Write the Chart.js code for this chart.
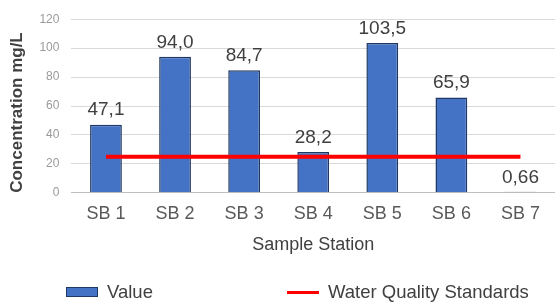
<!DOCTYPE html>
<html>
<head>
<meta charset="utf-8">
<script src="https://cdn.jsdelivr.net/npm/chart.js@4.4.1/dist/chart.umd.min.js"></script>
<style>
html,body{margin:0;padding:0;background:#fff;}
#wrap{position:relative;width:555px;height:302px;}
#legend{position:absolute;left:0;top:281px;width:555px;height:22px;font:18.5px "Liberation Sans",Arial,sans-serif;color:#404040;}
.li{position:absolute;top:0;display:flex;align-items:center;height:22px;}
.sw{display:inline-block;margin-right:9px;}
</style>
</head>
<body>
<div id="wrap">
<canvas id="c" width="555" height="302"></canvas>
<div id="legend"></div>
</div>
<script>
const categories = ["SB 1","SB 2","SB 3","SB 4","SB 5","SB 6","SB 7"];
const values = [47.1, 94.0, 84.7, 28.2, 103.5, 65.9, 0.66];
const standards = [25, 25, 25, 25, 25, 25, 25];
const yTicks = [0, 20, 40, 60, 80, 100, 120];
const seriesNames = ["Value", "Water Quality Standards"];

const FONT = '"Liberation Sans", Arial, sans-serif';

function fmt(v){ return (v < 1 ? v.toFixed(2) : v.toFixed(1)).replace('.', ','); }

const labelPlugin = {
  id: 'barLabels',
  afterDatasetsDraw(chart){
    const ctx = chart.ctx;
    const meta = chart.getDatasetMeta(0);
    ctx.save();
    ctx.font = '19px ' + FONT;
    ctx.fillStyle = '#404040';
    ctx.textAlign = 'center';
    ctx.textBaseline = 'bottom';
    meta.data.forEach((bar, i) => {
      ctx.fillText(fmt(values[i]), bar.x, bar.y - 5);
    });
    ctx.restore();
  }
};

const chart = new Chart(document.getElementById('c'), {
  data: {
    labels: categories,
    datasets: [
      {
        type: 'bar',
        label: seriesNames[0],
        data: values,
        backgroundColor: '#4472C4',
        borderColor: '#1F3864',
        borderWidth: 1.5,
        barPercentage: 0.92,
        categoryPercentage: 0.5,
        order: 2
      },
      {
        type: 'line',
        label: seriesNames[1],
        data: standards,
        borderColor: '#FF0000',
        borderWidth: 4,
        pointRadius: 0,
        fill: false,
        order: 1
      }
    ]
  },
  options: {
    responsive: false,
    animation: false,
    devicePixelRatio: 1,
    layout: { padding: { left: 7, right: 0, top: 12, bottom: 46 } },
    plugins: {
      legend: { display: false },
      tooltip: { enabled: false }
    },
    scales: {
      x: {
        grid: { display: false, drawTicks: false },
        border: { color: '#bfbfbf', width: 1 },
        ticks: { color: '#595959', font: { family: FONT, size: 18 }, padding: 10 },
        title: { display: true, text: 'Sample Station', color: '#404040', font: { family: FONT, size: 18 }, padding: { top: 0, bottom: 0 } }
      },
      y: {
        min: 0, max: 120,
        afterBuildTicks(scale){ scale.ticks = yTicks.map(v => ({ value: v })); },
        grid: { color: '#d9d9d9', drawTicks: false },
        border: { display: false },
        ticks: { color: '#9a9a9a', font: { family: FONT, size: 12 }, padding: 12 },
        title: { display: true, align: 'start', text: 'Concentration mg/L', color: '#404040', font: { family: FONT, size: 17, weight: 'bold' }, padding: { top: 0, bottom: 0 } }
      }
    }
  },
  plugins: [labelPlugin]
});

// HTML legend built from datasets
const legend = document.getElementById('legend');
const legendX = [66, 287];
chart.data.datasets.forEach((ds, i) => {
  const item = document.createElement('div');
  item.className = 'li';
  item.style.left = legendX[i] + 'px';
  const sw = document.createElement('span');
  sw.className = 'sw';
  if (ds.type === 'bar') {
    sw.style.cssText += 'width:32px;height:10px;background:' + ds.backgroundColor + ';border:1px solid ' + ds.borderColor + ';box-sizing:border-box;';
  } else {
    sw.style.cssText += 'width:32px;height:3px;background:' + ds.borderColor + ';';
  }
  const t = document.createElement('span');
  t.textContent = ds.label;
  item.appendChild(sw);
  item.appendChild(t);
  legend.appendChild(item);
});
</script>
</body>
</html>
